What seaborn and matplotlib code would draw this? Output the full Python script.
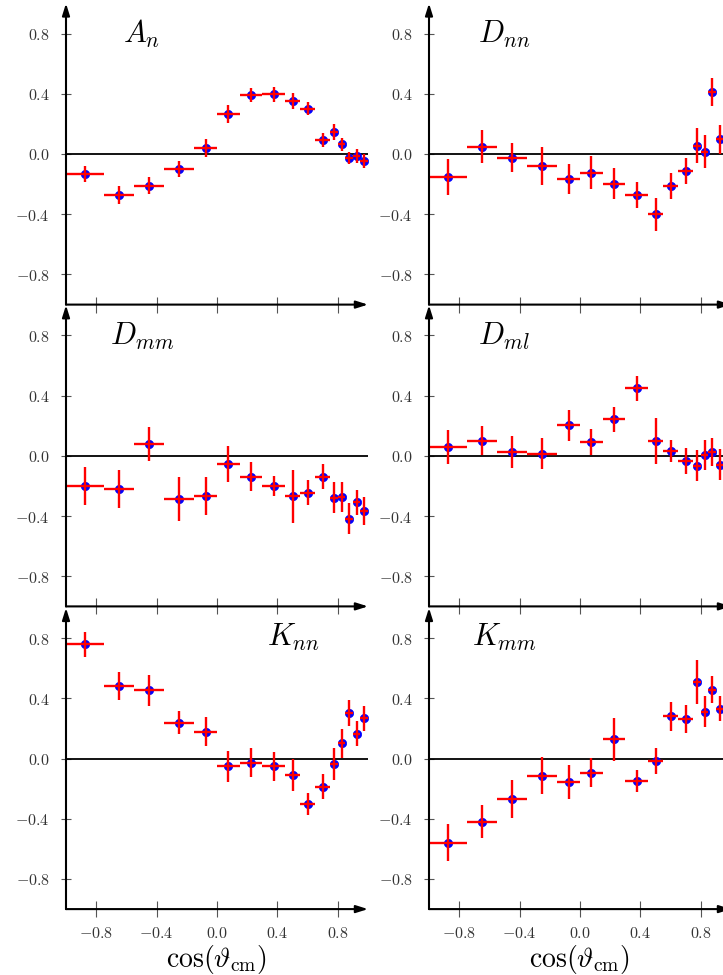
import numpy as np
import pandas as pd
import matplotlib
matplotlib.use("Agg")
import matplotlib.pyplot as plt
import seaborn as sns

# ---------------- data ----------------
cos_center = [-0.875, -0.65, -0.45, -0.25, -0.075, 0.075, 0.225, 0.375,
              0.5, 0.6, 0.7, 0.775, 0.825, 0.875, 0.925, 0.975]
cos_halfwidth = [0.125, 0.1, 0.1, 0.1, 0.075, 0.075, 0.075, 0.075,
                 0.05, 0.05, 0.05, 0.025, 0.025, 0.025, 0.025, 0.025]

An_val = [-0.135, -0.272, -0.21, -0.10, 0.04, 0.266, 0.392, 0.398,
          0.354, 0.30, 0.093, 0.144, 0.064, -0.024, -0.013, -0.046]
An_err = [0.053, 0.06, 0.055, 0.054, 0.058, 0.059, 0.048, 0.05,
          0.053, 0.043, 0.044, 0.052, 0.044, 0.04, 0.044, 0.046]

Dnn_val = [-0.15, 0.048, -0.024, -0.078, -0.166, -0.124, -0.197, -0.272,
           -0.40, -0.212, -0.113, 0.055, 0.015, 0.41, 0.097, 0.10]
Dnn_err = [0.12, 0.11, 0.094, 0.125, 0.10, 0.11, 0.103, 0.089,
           0.108, 0.084, 0.086, 0.115, 0.11, 0.092, 0.094, 0.10]

Dmm_val = [-0.199, -0.221, 0.077, -0.288, -0.268, -0.055, -0.139, -0.201,
           -0.268, -0.246, -0.139, -0.277, -0.272, -0.418, -0.307, -0.365]
Dmm_err = [0.127, 0.124, 0.113, 0.144, 0.127, 0.12, 0.097, 0.067,
           0.175, 0.084, 0.083, 0.103, 0.10, 0.103, 0.083, 0.094]

Dml_val = [0.06, 0.10, 0.027, 0.015, 0.204, 0.093, 0.243, 0.447,
           0.10, 0.033, -0.035, -0.066, 0.004, 0.027, -0.058, -0.03]
Dml_err = [0.113, 0.097, 0.105, 0.10, 0.103, 0.088, 0.083, 0.085,
           0.154, 0.072, 0.084, 0.103, 0.10, 0.094, 0.10, 0.10]

Knn_val = [0.759, 0.48, 0.454, 0.237, 0.177, -0.051, -0.029, -0.051,
           -0.111, -0.303, -0.188, -0.038, 0.10, 0.303, 0.166, 0.266]
Knn_err = [0.083, 0.092, 0.103, 0.077, 0.097, 0.104, 0.097, 0.097,
           0.107, 0.072, 0.083, 0.107, 0.097, 0.086, 0.083, 0.083]

Kmm_val = [-0.56, -0.42, -0.27, -0.115, -0.155, -0.095, 0.128, -0.148,
           -0.015, 0.281, 0.261, 0.509, 0.31, 0.458, 0.332, 0.47]
Kmm_err = [0.122, 0.11, 0.128, 0.122, 0.113, 0.097, 0.144, 0.072,
           0.086, 0.097, 0.092, 0.145, 0.102, 0.088, 0.08, 0.09]

panel_labels = [r"$A_n$", r"$D_{nn}$", r"$D_{mm}$", r"$D_{ml}$", r"$K_{nn}$", r"$K_{mm}$"]
panel_values = [An_val, Dnn_val, Dmm_val, Dml_val, Knn_val, Kmm_val]
panel_errors = [An_err, Dnn_err, Dmm_err, Dml_err, Knn_err, Kmm_err]
label_pos = [(-0.62, 0.74), (-0.675, 0.74), (-0.71, 0.74),
             (-0.675, 0.74), (0.33, 0.745), (-0.715, 0.745)]

ytick_vals = [-0.8, -0.4, 0.0, 0.4, 0.8]
xtick_vals = [-0.8, -0.4, 0.0, 0.4, 0.8]
xlabel_text = r"$\cos(\vartheta_{\rm cm})$"

# ---------------- style ----------------
sns.set_style("white")
plt.rcParams["mathtext.fontset"] = "cm"
plt.rcParams["font.family"] = ["DejaVu Serif"]

W, H = 723, 975
fig = plt.figure(figsize=(W / 100, H / 100), dpi=100)

col_x0 = [66, 429]
row_top = [3.4, 305.2, 607.9]
aw, ah = 302, 301.2

tick_color = "#555555"
label_color = "#333333"

for i in range(6):
    r, c = divmod(i, 2)
    ax = fig.add_axes([col_x0[c] / W, (H - row_top[r] - ah) / H, aw / W, ah / H])
    ax.set_xlim(-1, 1)
    ax.set_ylim(-1, 1)
    ax.set_facecolor("none")
    for s in ax.spines.values():
        s.set_visible(False)

    df = pd.DataFrame({"x": cos_center, "y": panel_values[i],
                       "xe": cos_halfwidth, "ye": panel_errors[i]})

    ax.axhline(0, color="black", lw=1.3, zorder=1)
    sns.scatterplot(data=df, x="x", y="y", ax=ax, color="#0000ff",
                    edgecolor="#0000ff", s=36, linewidth=0.5, zorder=3)
    ax.errorbar(df["x"], df["y"], xerr=df["xe"], yerr=df["ye"], fmt="none",
                ecolor="#ff0000", elinewidth=1.7, capsize=0, zorder=4)

    # axis lines with arrows
    ax.annotate("", xy=(1.0, 0), xytext=(0, 0), xycoords="axes fraction",
                arrowprops=dict(arrowstyle="-|>,head_length=0.7,head_width=0.22",
                                lw=1.5, color="black", shrinkA=0, shrinkB=0),
                annotation_clip=False, zorder=6)
    ax.annotate("", xy=(0, 1.0), xytext=(0, 0), xycoords="axes fraction",
                arrowprops=dict(arrowstyle="-|>,head_length=0.7,head_width=0.22",
                                lw=1.5, color="black", shrinkA=0, shrinkB=0),
                annotation_clip=False, zorder=6)

    ax.set_xticks(xtick_vals, labels=[f"${v:.1f}$" for v in xtick_vals])
    ax.set_yticks(ytick_vals, labels=[f"${v:.1f}$" for v in ytick_vals])
    ax.tick_params(axis="x", direction="inout", length=11, width=0.8,
                   color=tick_color, labelcolor=label_color, labelsize=11.5,
                   pad=6, bottom=True)
    ax.tick_params(axis="y", direction="inout", length=7.5, width=0.8,
                   color=tick_color, labelcolor=label_color, labelsize=11.5,
                   pad=8, left=True)
    if r < 2:
        ax.tick_params(axis="x", labelbottom=False)
        ax.set_xlabel("")
    else:
        ax.set_xlabel(xlabel_text, fontsize=20, labelpad=1, color="black")
    ax.set_ylabel("")

    lx, ly = label_pos[i]
    ax.text(lx, ly, panel_labels[i], fontsize=22, ha="left", va="baseline",
            color="black")

fig.savefig("out.png", dpi=100)
